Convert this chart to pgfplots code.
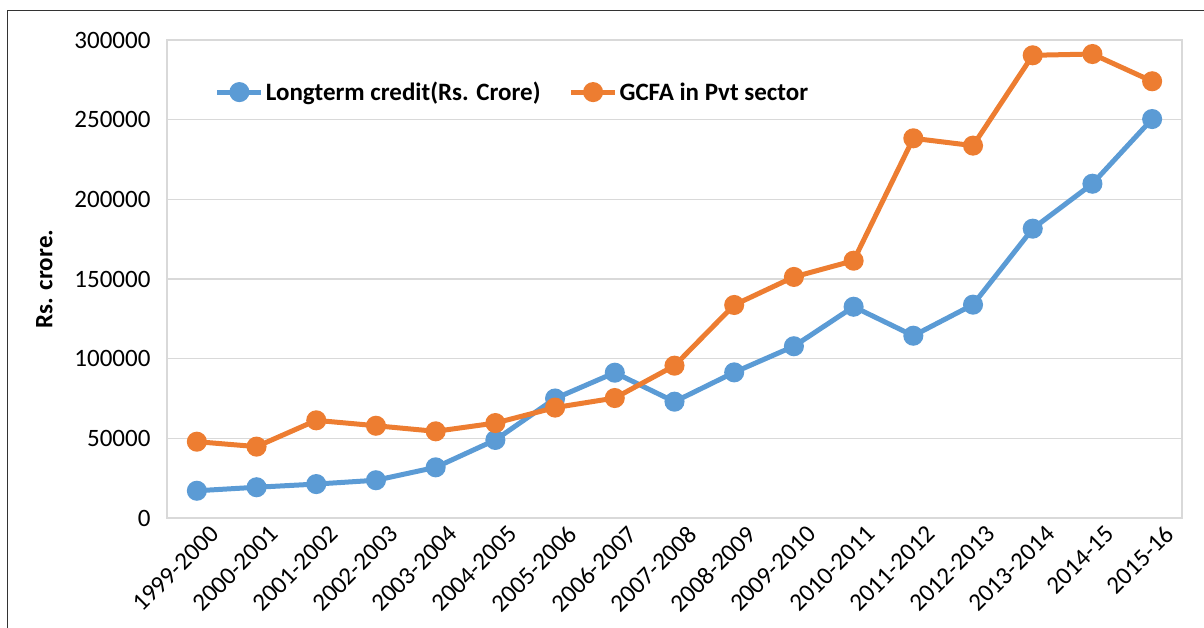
\documentclass[border=0pt]{standalone}
\usepackage{fontspec}
\setmainfont{Carlito}
\usepackage{pgfplots}
\pgfplotsset{compat=1.18}
\definecolor{cblue}{HTML}{5B9BD5}
\definecolor{corange}{HTML}{ED7D31}
\definecolor{cgrid}{HTML}{D9D9D9}
\begin{document}
\begin{tikzpicture}
\useasboundingbox (0,-628bp) rectangle (1204bp,0);
\draw[line width=1.5bp, color=black!80] (7.5bp,-700bp) -- (7.5bp,-10.5bp) -- (1300bp,-10.5bp);
\begin{axis}[
  at={(167bp,-518bp)}, anchor=south west,
  scale only axis, width=1015bp, height=478bp,
  xmin=-0.5, xmax=16.5, ymin=0, ymax=300000,
  xtick={0,...,16},
  xticklabels={1999-2000,2000-2001,2001-2002,2002-2003,2003-2004,2004-2005,2005-2006,2006-2007,2007-2008,2008-2009,2009-2010,2010-2011,2011-2012,2012-2013,2013-2014,2014-15,2015-16},
  ytick={0,50000,100000,150000,200000,250000,300000},
  scaled y ticks=false,
  /pgf/number format/.cd, fixed, 1000 sep={}, assume math mode=true, /pgfplots/.cd,
  tick label style={font=\fontsize{25bp}{29bp}\selectfont, text=black},
  yticklabel style={anchor=east, xshift=-13bp},
  xticklabel style={rotate=45, anchor=east, inner sep=0pt, xshift=4bp, yshift=-21bp},
  major tick length=0pt,
  axis line style={cgrid, line width=1.5bp},
  ymajorgrids, grid style={cgrid, line width=1.5bp},
  ylabel={Rs. crore.},
  ylabel style={at={(axis description cs:-0.1209,0.5)}, anchor=center, font=\fontsize{25bp}{29bp}\selectfont\bfseries},
  legend columns=2,
  legend style={draw=none, fill=none, at={(rel axis cs:0.047,0.891)}, anchor=west, inner sep=0pt,
    font=\fontsize{25bp}{29bp}\selectfont\bfseries,
    nodes={inner sep=2bp},
    /tikz/every even column/.append style={column sep=26bp}},
  legend image code/.code={\draw[mark repeat=2, mark phase=2, #1] plot coordinates {(0bp,0bp) (22bp,0bp) (44bp,0bp)};},
  clip=false,
]
\addplot[cblue, line width=5bp, mark=*, mark size=7.5bp, mark options={solid}] coordinates {
(0,17100) (1,19300) (2,21300) (3,23700) (4,31800) (5,49000) (6,75000) (7,91200) (8,73000)
(9,91400) (10,107800) (11,132600) (12,114400) (13,133900) (14,181600) (15,209800) (16,250400)};
\addlegendentry{Longterm credit(Rs. Crore)}
\addplot[corange, line width=5bp, mark=*, mark size=7.5bp, mark options={solid}] coordinates {
(0,47900) (1,44800) (2,61300) (3,57900) (4,54400) (5,59600) (6,69300) (7,75300) (8,95600)
(9,133700) (10,151300) (11,161500) (12,238300) (13,233700) (14,290400) (15,291200) (16,274100)};
\addlegendentry{GCFA in Pvt sector}
\end{axis}
\end{tikzpicture}
\end{document}
